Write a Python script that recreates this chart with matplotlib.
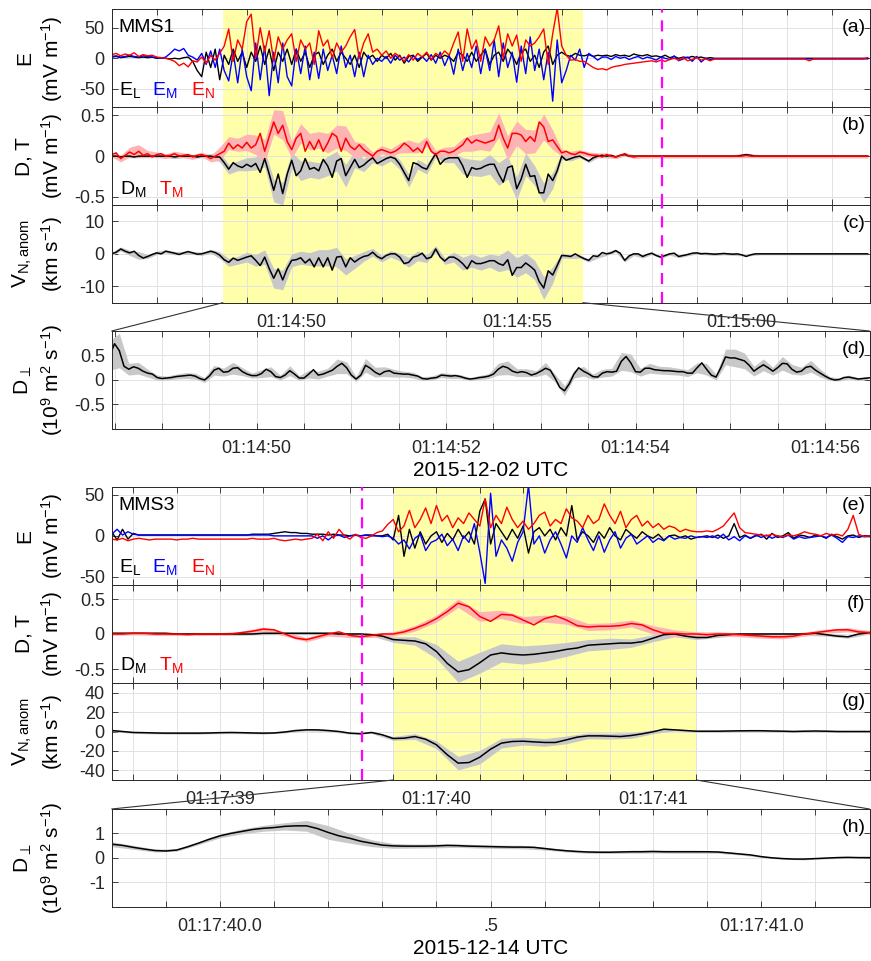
import numpy as np
import matplotlib
matplotlib.use('Agg')
import matplotlib.pyplot as plt
from matplotlib.patches import ConnectionPatch

plt.rcParams['font.family'] = ['Liberation Sans', 'DejaVu Sans']
plt.rcParams['mathtext.default'] = 'regular'
plt.rcParams['axes.unicode_minus'] = False

# ---------------- MMS1 (2015-12-02), seconds after 01:14:00, 0.1 s samples from 46.0 s
EL_top = [
 2, 3, 1, 2, 3, 2, 1, 2, 1, 2,
 0, 1, 0, -1, 0, -1, 1, 2, -5, -20,
 -30, 10, -15, 15, -35, 5, -10, 15, -5, 10,
 -15, 10, -5, 20, -10, 15, -20, 10, -5, 15,
 -10, 15, -5, 10, -15, 5, 10, -10, 5, 15,
 -5, 10, 0, -10, 5, -15, 10, 0, 5, -5,
 5, 0, 8, -3, 5, -8, 3, 5, -5, 2,
 8, -3, 5, 0, 5, 2, -5, 10, 5, -5,
 10, -5, 5, 15, -10, 5, 10, -5, 15, 5,
 -10, 10, 15, -5, 5, -15, 10, 20, -10, 5,
 10, 5, 3, 8, 5, 4, 6, 3, 5, 4,
 5, 3, 6, 4, 5, 3, 7, 5, 4, 6,
 3, 4, 2, 5, 1, 3, 0, 2, 1, 3,
 1, 2, 0, 1, 0, 0, 0, 0, 0, 0,
 0, 0, 0, 0, 0, 0, 0, 0, 0, 0,
 0, 0, 0, 0, 0, 0, 0, 0, 0, 0,
 0, 0, 0, 0, 0, 0, 0, 0, 0]
EM_top = [
 3, 4, 2, 3, 5, 3, 2, 4, 3, 2,
 1, 0, 2, 8, 15, 12, 16, 5, 2, -3,
 8, -10, 12, -15, 15, -20, -37, 10, -40, 15,
 -30, -53, 25, -35, 20, -61, 10, -40, 25, -30,
 -45, 15, -25, 20, -35, 10, -33, 15, -20, 5,
 -25, 20, -15, 5, -30, 10, -30, 5, -10, 0,
 -5, 3, -8, 5, -3, 2, -6, 4, -2, 3,
 -5, 6, -8, 10, -12, 5, -26, 15, -20, 8,
 -15, 20, -25, 15, -20, 30, -30, 25, -15, 10,
 -39, 20, -25, 35, -20, 15, -35, 10, -70, 30,
 -40, -20, 5, -3, 15, -15, 8, 3, -3, 2,
 2, -2, 3, 0, 2, -2, 1, 3, -1, 2,
 0, -3, 2, 0, -2, 4, -4, -1, 2, -5,
 3, -6, 0, -2, -1, -1, -1, -1, -1, -1,
 -1, -1, -1, -1, -1, -1, -1, -1, -1, -1,
 -1, -1, -1, -1, -1, -1, -1, -1, -1, -1,
 -1, -1, -1, -1, -1, -1, -1, -1, -1]
EN_top = [
 6, 8, 4, 7, 5, 9, 3, 6, 4, 5,
 2, 1, 0, -2, -5, -12, -8, -14, -4, -6,
 2, -8, 5, -3, 8, 20, 48, -5, 30, 15,
 60, 72, 0, 50, 10, 45, -5, 35, 15, 30,
 40, -5, 30, 15, 25, -10, 45, 20, 30, 0,
 25, 10, 20, 35, 47, 0, 25, 40, 10, 15,
 5, 12, 0, 8, 3, -5, 6, -3, 8, 2,
 10, -2, 8, 3, 12, 5, 25, 43, -5, 48,
 15, 30, -5, 35, 20, 30, 53, 0, 40, 20,
 38, -5, 30, 20, 25, 35, 48, -10, 40, 82,
 20, 5, -3, -2, -5, -5, -10, -15, -18, -17,
 -19, -15, -13, -12, -10, -9, -8, -7, -6, -5,
 -4, -6, -3, -5, -2, 0, -3, 1, -4, -2,
 1, -3, -1, -4, -1, -1, -1, -1, -1, -1,
 -1, -1, -1, -1, -1, -1, -1, -1, -1, -1,
 -1, -1, -1, -1, -1, -4, -1, -1, -1, -1,
 -1, -1, -1, -1, -1, -1, -1, -1, 1]
# D_M, T_M in 0.01 mV/m
DM_top = [
 0, 0, -1, 0, 0, -1, 0, 0, 0, 0,
 0, 0, 0, 0, -1, 0, 0, 0, 0, -1,
 0, 0, 0, -1, -1, -8, -16, -8, -12, -14,
 -10, -13, -9, -20, -3, -22, -42, -22, -46, -22,
 -5, -24, -18, -3, -16, -14, -18, -4, -12, -26,
 -6, -3, -24, -14, -4, -14, -11, -6, -2, -9,
 -6, -3, -1, -3, -10, -20, -30, -8, -10, -14,
 -16, -6, 3, -10, -4, -2, -2, -2, -12, -26,
 -14, -16, -15, -12, -10, -10, -22, -32, -14, -12,
 -40, -28, -10, -25, -24, -45, -45, -22, -30, -18,
 0, -5, -3, -1, 0, -3, -6, -2, 0, 1,
 0, 1, -1, 1, 2, 0, 0, 0, 0, 0,
 0, 0, 0, 0, 0, 0, 0, 0, 0, 0,
 0, 0, 0, 0, 0, 0, 0, 0, 0, 0,
 1, 2, 1, 0, 0, 0, 0, 0, 0, 0,
 0, 0, 0, 0, 0, 0, 0, 0, 0, 0,
 0, 0, 0, 0, 0, 0, 0, 0, 0]
TM_top = [
 2, 4, -3, 1, 5, 2, 6, 1, 3, -1,
 2, 3, 0, 1, 3, 0, 1, 2, -1, 1,
 2, 0, -3, 0, 3, 6, 16, 9, 14, 10,
 17, 10, 14, 28, 6, 24, 42, 28, 38, 18,
 8, 22, 28, 6, 18, 8, 20, 6, 16, 28,
 24, 6, 22, 12, 8, 14, 8, 4, 0, 6,
 8, 6, 4, 6, 10, 16, 12, 6, 10, 4,
 18, 6, 2, 6, 6, 4, 6, 10, 14, 22,
 16, 20, 18, 16, 18, 20, 38, 22, 10, 28,
 28, 26, 18, 24, 18, 42, 36, 18, 20, 12,
 4, 6, 3, 2, 5, 4, 2, 1, 1, -1,
 2, 0, -1, 1, 3, 0, -1, 0, 0, 0,
 0, 0, 0, 0, 0, 0, 0, 0, 0, 0,
 0, 0, 0, 0, 0, 0, 0, 0, 0, 0,
 0, 1, 0, 0, 0, 0, 0, 0, 0, 0,
 0, 0, 0, 0, 0, 0, 0, 0, 0, 0,
 0, 0, 0, 0, 0, 0, 0, 0, 0]
# V_N,anom in 0.1 km/s
VN_top = [
 0, 5, 15, 8, 3, 8, -5, -13, -8, -2,
 3, 0, 8, 5, 2, -2, 3, 7, 3, -1,
 0, 4, 8, 4, -4, -18, -26, -13, -20, -15,
 -10, -6, -20, -36, -10, -45, -75, -46, -80, -45,
 -20, -18, -12, -28, -16, -40, -12, -40, -12, -50,
 -10, -8, -40, -12, -25, -15, -8, -5, 5, -8,
 -15, -5, 0, 0, -10, -30, -26, -10, -6, 2,
 -15, -10, 15, -10, -22, -10, -10, -18, -30, -46,
 -21, -30, -30, -26, -21, -21, -30, -35, -18, -66,
 -42, -42, -28, -38, -50, -85, -105, -52, -65, -36,
 -5, -6, -8, 0, -8, -15, -20, -6, -8, 4,
 0, 3, 10, 2, -20, -6, 0, 0, -8, -2,
 2, -5, -10, -5, 0, 2, -8, -5, -2, 2,
 3, 0, 1, 0, -1, 0, 1, 0, -1, 0,
 -3, -8, -3, 0, 0, 0, 0, 0, 0, 0,
 0, 0, 0, 0, 0, 0, 0, 0, 0, 0,
 0, 0, 0, 0, 0, 0, 0, 0, 0]
# uncertainty half-widths, every 0.2 s from 46.0 s
TMw_top = [3, 4, 6, 8, 4, 3, 3, 3, 3, 3,
           3, 4, 8, 8, 8, 10, 12, 14, 15, 18,
           10, 12, 10, 10, 12, 14, 15, 10, 8, 5,
           5, 5, 6, 8, 6, 6, 5, 5, 6, 8,
           10, 10, 12, 15, 15, 15, 15, 14, 16, 12,
           4, 3, 3, 3, 3, 2, 2, 2, 2, 2,
           2, 2, 2, 2, 2, 2, 2, 2, 2, 2,
           2, 2, 2, 2, 2, 2, 2, 2, 2, 2,
           2, 2, 2, 2, 2]
DMw_top = [2, 2, 2, 2, 2, 2, 2, 2, 2, 2,
           2, 3, 6, 6, 6, 8, 8, 10, 14, 14,
           10, 12, 10, 10, 12, 12, 14, 10, 8, 6,
           6, 5, 6, 8, 6, 6, 4, 4, 6, 10,
           10, 10, 12, 14, 14, 14, 14, 12, 12, 10,
           4, 3, 2, 2, 2, 2, 2, 2, 2, 2,
           2, 2, 2, 2, 2, 2, 2, 2, 2, 2,
           2, 2, 2, 2, 2, 2, 2, 2, 2, 2,
           2, 2, 2, 2, 2]
VNw_top = [5, 6, 8, 12, 6, 5, 5, 5, 5, 5,
           5, 6, 10, 12, 12, 15, 18, 22, 30, 30,
           20, 20, 20, 25, 25, 30, 25, 20, 15, 12,
           10, 10, 12, 15, 15, 12, 10, 10, 15, 20,
           20, 20, 20, 25, 30, 30, 30, 30, 35, 25,
           8, 6, 5, 5, 5, 5, 5, 5, 5, 5,
           4, 4, 4, 4, 4, 4, 4, 4, 4, 4,
           3, 3, 3, 3, 3, 3, 3, 3, 3, 3,
           3, 3, 3, 3, 3]

# D_perp (MMS1), 0.05 s samples from 48.45 s, in 0.01 x 1e9 m^2/s
Dp1 = [50, 74, 60, 28, 22, 27, 24, 18, 14, 12,
       5, 3, 4, 5, 7, 8, 9, 10, 8, 3,
       0, 8, 20, 24, 16, 17, 24, 25, 17, 12,
       9, 9, 13, 22, 17, 7, 5, 10, 19, 12,
       4, 4, 12, 21, 10, 12, 16, 20, 28, 34,
       25, 10, 2, 10, 30, 24, 16, 11, 17, 19,
       14, 13, 12, 12, 10, 8, 3, 2, 4, 5,
       10, 9, 8, 9, 7, 4, 2, 3, 5, 6,
       8, 12, 22, 28, 25, 18, 15, 17, 15, 10,
       13, 18, 24, 20, 4, -15, -22, -8, 12, 25,
       18, 13, 7, 6, 14, 17, 16, 18, 38, 48,
       35, 17, 16, 24, 24, 21, 20, 19, 19, 18,
       17, 17, 14, 14, 25, 35, 22, 10, 6, 25,
       47, 45, 45, 42, 39, 30, 18, 25, 31, 25,
       18, 25, 34, 33, 22, 16, 18, 26, 28, 20,
       14, 8, 3, 0, 1, 5, 6, 4, 2, 3,
       4, 5]
Dp1w = [30, 35, 12, 12, 8, 5, 4, 5, 6, 6,
        5, 10, 8, 12, 8, 5, 8, 10, 5, 10,
        5, 8, 8, 8, 15, 12, 5, 14, 10, 10,
        8, 6, 6, 4, 4, 5, 5, 4, 3, 4,
        5, 12, 14, 8, 8, 6, 12, 8, 10, 8,
        10, 5, 8, 8, 18, 18, 8, 10, 8, 8,
        7, 7, 10, 12, 6, 16, 18, 16, 10, 12,
        8, 14, 10, 8, 12, 8, 4, 3, 4, 3,
        3]

# ---------------- MMS3 (2015-12-14), seconds after 01:17:00
# E fields, 0.025 s samples from 38.5 s
EL_bot = [5, -5, 8, -4, 3, 1, 1, 1, 1, 1,
          1, 1, 1, 1, 1, 1, 1, 1, 1, 1,
          1, 1, 1, 1, 1, 1, 2, 2, 2, 2,
          3, 4, 5, 4, 4, 3, 3, 2, 2, 2,
          1, 2, 1, 1, 0, 1, 0, 1, 1, 0,
          0, 2, -5, 25, -25, 8, -15, 5, -10, 0,
          5, -8, 3, -5, 8, -3, 5, -10, 30, 45,
          -10, 15, 5, -5, 8, -3, 12, -21, 5, 10,
          0, 8, -5, 10, 0, 37, -5, 5, 0, -8,
          5, -3, 10, 0, -5, 8, 2, -3, 5, 0,
          -3, 2, -5, 0, 1, -2, 0, -4, -2, -1,
          0, -2, 1, -3, 0, 15, -2, 1, -3, 0,
          2, -4, 3, -2, 0, 4, -3, 1, 0, -2,
          1, 0, -3, 2, -1, -4, 0, 1, -2, 0,
          0]
EM_bot = [2, 8, 1, 5, 2, 1, 1, 1, 1, 1,
          1, 1, 1, 1, 1, 1, 1, 1, 1, 1,
          1, 1, 1, 1, 1, 1, 1, 1, 1, 1,
          0, 0, 0, 0, 0, 0, 0, 0, -3, 0,
          -5, 0, 1, -2, 0, 1, 0, 1, 0, 0,
          -1, 0, -3, -10, -5, -16, -3, 2, -18, -8,
          -5, 2, -12, -4, -18, 0, -8, 15, -20, -58,
          52, -25, -5, -15, -31, -8, 5, 62, -10, 0,
          -21, -5, 5, -10, -27, 0, -8, 10, -5, -18,
          0, -20, -5, 5, -15, -3, 2, -10, -5, 0,
          -8, -3, -6, 0, -4, -2, -3, 0, -2, -1,
          -2, 0, -3, 2, -5, -1, -6, 0, -3, 1,
          -2, 1, -3, 0, -2, 1, -4, -1, -3, -2,
          -1, 0, -2, 1, -3, -8, -1, -2, 0, -1,
          -1]
EN_bot = [-4, -5, -3, -6, -4, -3, -4, -5, -4, -4,
          -4, -4, -5, -4, -4, -3, -4, -4, -4, -4,
          -4, -4, -4, -4, -4, -4, -3, -4, -4, -4,
          -3, -5, -6, -5, -4, -5, -4, -3, 2, -6,
          5, -3, 8, 0, -4, 2, -2, -3, 0, 4,
          6, 14, 20, 5, 12, 31, 10, 20, 34, 15,
          37, 18, 25, 10, 22, 15, 28, 20, 12, 45,
          10, 25, 15, 35, 20, 10, 18, 8, 15, 25,
          29, 12, 20, 15, 33, 22, 18, 10, 25, 15,
          20, 39, 25, 15, 30, 10, 20, 25, 12, 18,
          10, 15, 8, 12, 10, 5, 8, 6, 5, 5,
          6, 5, 8, 12, 20, 28, 10, 4, 3, 2,
          1, 0, 2, 0, -1, 1, 0, 2, 5, 3,
          2, 0, 3, 1, 2, 0, 8, 25, 2, -1,
          0]
# 0.05 s samples from 38.5 s
DM_bot = [1, 1, 1, 1, 1, 1, 0, 0, 0, 0,
          0, 0, 0, 0, 1, 1, 1, 1, 1, 1,
          1, 0, 0, 0, -1, -3, -8, -9, -10, -14,
          -25, -42, -54, -51, -41, -30, -27, -29, -30, -29,
          -27, -25, -22, -20, -16, -15, -14, -13, -13, -11,
          -6, -1, 0, -3, -5, -5, -2, -1, 0, 0,
          0, 0, 0, 0, 0, 1, -1, -3, -4, 0,
          2]
TM_bot = [0, 0, 1, 1, 0, 0, 0, -1, 0, 0,
          0, 0, 2, 4, 7, 6, 0, -6, -8, -4,
          0, 3, -2, -4, -2, 0, 0, 3, 8, 14,
          22, 32, 44, 39, 25, 18, 28, 27, 20, 13,
          22, 26, 20, 12, 10, 11, 11, 12, 15, 13,
          6, 1, 1, 0, 0, -1, 0, 0, -1, -2,
          -3, -4, -4, -3, 0, 2, 4, 6, 6, 3,
          2]
VN_bot = [1.0, 0.0, -1.0, -1.2, -1.5, -1.7, -1.7, -1.7, -1.7, -1.5,
          -1.2, -1.0, -1.2, -1.5, -1.7, -1.5, -0.5, 1.0, 1.7, 1.7,
          1.0, 0.0, -1.7, -2.4, -1.0, -3.4, -7.2, -6.9, -5.2, -8.0,
          -13.7, -24.0, -32.6, -32.0, -26.5, -18.2, -12.0, -10.3, -10.0, -10.7,
          -11.3, -11.3, -8.6, -5.8, -4.5, -4.5, -4.8, -5.2, -4.1, -2.4,
          -0.3, 2.4, 1.7, 1.0, 0.3, 0.3, 0.3, 0.5, 0.7, 0.8,
          0.8, 0.5, 0.3, 0.0, 0.3, 0.5, 0.3, 0.0, 0.0, 0.0,
          0.0]
# half-widths every 0.1 s from 38.5 s
TMw_bot = [2, 2, 2, 2, 2, 2, 2, 3, 3, 3,
           3, 3, 3, 3, 4, 5, 6, 7, 6, 5,
           5, 6, 5, 5, 5, 6, 5, 3, 3, 3,
           3, 3, 3, 3, 3, 3]
DMw_bot = [2, 2, 2, 2, 2, 2, 2, 2, 2, 2,
           2, 2, 2, 4, 6, 10, 15, 15, 13, 13,
           12, 10, 8, 8, 6, 5, 4, 3, 3, 2,
           2, 2, 2, 2, 2, 2]
VNw_bot = [1, 1, 1, 1, 1, 1, 1, 1, 1, 1,
           1, 1, 1, 2, 3, 4, 7, 7, 5, 4,
           4, 4, 3, 3, 3, 2, 1, 1, 1, 1,
           1, 1, 1, 1, 1, 1]
# D_perp (MMS3), 0.02 s samples from 39.80 s
Dp3 = [56, 51, 43, 36, 30, 28, 32, 45, 60, 76,
       90, 100, 108, 116, 121, 124, 129, 131, 131, 120,
       104, 90, 80, 68, 60, 52, 49, 48, 48, 48,
       49, 51, 50, 48, 47, 46, 45, 44, 44, 43,
       38, 33, 29, 26, 24, 23, 23, 24, 25, 25,
       26, 25, 25, 25, 25, 25, 24, 20, 16, 12,
       5, 0, -3, -5, -5, -3, -1, 1, 2, 1,
       1]
Dp3w = [10, 8, 6, 5, 6, 8, 10, 12, 15, 22,
        28, 20, 14, 10, 8, 8, 7, 7, 7, 7,
        6, 5, 5, 5, 6, 6, 6, 6, 5, 4,
        3, 3, 3, 3, 3, 3]

# ---------------- build arrays
EL_top, EM_top, EN_top = map(np.array, (EL_top, EM_top, EN_top))
DM_top = np.array(DM_top) / 100; TM_top = np.array(TM_top) / 100
VN_top = np.array(VN_top) / 10
TMw_top = np.array(TMw_top) / 100; DMw_top = np.array(DMw_top) / 100
VNw_top = np.array(VNw_top) / 10
Dp1 = np.array(Dp1) / 100; Dp1w = np.array(Dp1w) / 100
EL_bot, EM_bot, EN_bot = map(np.array, (EL_bot, EM_bot, EN_bot))
DM_bot = np.array(DM_bot) / 100; TM_bot = np.array(TM_bot) / 100
VN_bot = np.array(VN_bot)
TMw_bot = np.array(TMw_bot) / 100; DMw_bot = np.array(DMw_bot) / 100
VNw_bot = np.array(VNw_bot, dtype=float)
Dp3 = np.array(Dp3) / 100; Dp3w = np.array(Dp3w) / 100

t_top = 46.0 + 0.1 * np.arange(len(EN_top))
t_d = 48.45 + 0.05 * np.arange(len(Dp1))
t_eb = 38.5 + 0.025 * np.arange(len(EN_bot))
t_b = 38.5 + 0.05 * np.arange(len(DM_bot))
t_h = 39.8 + 0.02 * np.arange(len(Dp3))

for a in (EL_top, EM_top, DM_top, TM_top, VN_top):
    assert len(a) == len(t_top)
for a in (TMw_top, DMw_top, VNw_top):
    assert len(a) == len(t_top[::2])
assert len(Dp1w) == len(t_d[::2])
for a in (EL_bot, EM_bot):
    assert len(a) == len(t_eb)
for a in (TM_bot, VN_bot):
    assert len(a) == len(t_b)
for a in (TMw_bot, DMw_bot, VNw_bot):
    assert len(a) == len(t_b[::2])
assert len(Dp3w) == len(t_h[::2])

# ---------------- figure
W_PX, H_PX = 871, 961
fig = plt.figure(figsize=(W_PX / 100, H_PX / 100), dpi=100)
X0, X1 = 111.7, 869.5

def add_ax(ytop, ybot):
    return fig.add_axes([X0 / W_PX, 1 - ybot / H_PX, (X1 - X0) / W_PX, (ybot - ytop) / H_PX])

ax_a = add_ax(9.3, 107.3)
ax_b = add_ax(107.3, 205.0)
ax_c = add_ax(205.0, 302.7)
ax_d = add_ax(331.0, 429.0)
ax_e = add_ax(486.7, 585.0)
ax_f = add_ax(585.0, 683.0)
ax_g = add_ax(683.0, 780.0)
ax_h = add_ax(809.0, 906.7)

SPC = '#262626'
YEL = '#FFFFAA'
PINK = '#FFB4B4'
GRAY = '#C8C8C8'
MAG = '#FF00FF'
BLUE = '#0000FF'
RED = '#FF0000'
TFS = 13
LFS = 15

def style(ax):
    ax.tick_params(direction='in', top=True, right=True, length=4, width=0.6,
                   colors=SPC, labelsize=TFS)
    ax.tick_params(axis='x', pad=8)
    ax.tick_params(axis='y', pad=5)
    for s in ax.spines.values():
        s.set_color(SPC)
        s.set_linewidth(0.7)
    ax.grid(True, color='#E2E2E2', lw=0.7)
    ax.set_axisbelow(True)
    ax.yaxis.set_label_coords(-0.062, 0.5)

def set_xt(ax, ticks, labeled):
    ticks = np.round(ticks, 3)
    ax.set_xticks(ticks)
    ax.set_xticklabels([labeled.get(round(float(t), 3), '') for t in ticks])

def set_yt(ax, ticks, fmt):
    ax.set_yticks(ticks)
    ax.set_yticklabels([fmt(v) for v in ticks])

fmt_int = lambda v: '%d' % v
fmt_half = lambda v: '0' if v == 0 else ('%g' % v)

# ---- top group
top_xlim = (46.0, 62.84)
zoom1 = (48.47, 56.47)
top_ticks = np.arange(47, 63, 1.0)
top_labels = {50.0: '01:14:50', 55.0: '01:14:55', 60.0: '01:15:00'}
mag1 = 58.23

for ax in (ax_a, ax_b, ax_c):
    style(ax)
    ax.axvspan(*zoom1, color=YEL, zorder=0.2, lw=0)
    ax.axvline(mag1, color=MAG, lw=1.6, ls=(0, (5, 3.5)), zorder=5)
    ax.set_xlim(*top_xlim)
    set_xt(ax, top_ticks, top_labels if ax is ax_c else {})

ax_a.plot(t_top, EL_top, color='k', lw=1.0)
ax_a.plot(t_top, EM_top, color=BLUE, lw=1.0)
ax_a.plot(t_top, EN_top, color=RED, lw=1.0)
ax_a.set_ylim(-80, 80)
set_yt(ax_a, [-50, 0, 50], fmt_int)
ax_a.set_ylabel('E\n(mV m$^{-1}$)', fontsize=LFS, linespacing=1.25)

tb = t_top[::2]
ax_b.fill_between(tb, DM_top[::2] - DMw_top, DM_top[::2] + DMw_top, color=GRAY, lw=0, zorder=1)
ax_b.fill_between(tb, TM_top[::2] - TMw_top, TM_top[::2] + TMw_top, color=PINK, lw=0, zorder=1.1)
ax_b.plot(t_top, DM_top, color='k', lw=1.1, zorder=2)
ax_b.plot(t_top, TM_top, color=RED, lw=1.1, zorder=2.1)
ax_b.set_ylim(-0.6, 0.6)
set_yt(ax_b, [-0.5, 0, 0.5], fmt_half)
ax_b.set_ylabel('D, T\n(mV m$^{-1}$)', fontsize=LFS, linespacing=1.25)

ax_c.fill_between(tb, VN_top[::2] - VNw_top, VN_top[::2] + VNw_top, color=GRAY, lw=0, zorder=1)
ax_c.plot(t_top, VN_top, color='k', lw=1.1, zorder=2)
ax_c.set_ylim(-15, 15)
set_yt(ax_c, [-10, 0, 10], fmt_int)
ax_c.set_ylabel('V$_{N,anom}$\n(km s$^{-1}$)', fontsize=LFS, linespacing=1.25)

# ---- (d)
style(ax_d)
ax_d.fill_between(t_d[::2], Dp1[::2] - Dp1w, Dp1[::2] + Dp1w, color=GRAY, lw=0, zorder=1)
ax_d.plot(t_d, Dp1, color='k', lw=1.1, zorder=2)
ax_d.set_xlim(*zoom1)
ax_d.set_ylim(-1, 1)
set_yt(ax_d, [-0.5, 0, 0.5], fmt_half)
set_xt(ax_d, np.arange(48.5, 56.01, 0.5),
       {50.0: '01:14:50', 52.0: '01:14:52', 54.0: '01:14:54', 56.0: '01:14:56'})
ax_d.set_ylabel('D$_{\\perp}$\n(10$^{9}$ m$^{2}$ s$^{-1}$)', fontsize=LFS, linespacing=1.25)
ax_d.set_xlabel('2015-12-02 UTC', fontsize=LFS, labelpad=3)

# ---- bottom group
bot_xlim = (38.5, 42.0)
zoom3 = (39.8, 41.2)
bot_ticks = np.arange(38.6, 41.81, 0.2)
bot_labels = {39.0: '01:17:39', 40.0: '01:17:40', 41.0: '01:17:41'}
mag3 = 39.655

for ax in (ax_e, ax_f, ax_g):
    style(ax)
    ax.axvspan(*zoom3, color=YEL, zorder=0.2, lw=0)
    ax.axvline(mag3, color=MAG, lw=1.6, ls=(0, (5, 3.5)), zorder=5)
    ax.set_xlim(*bot_xlim)
    set_xt(ax, bot_ticks, bot_labels if ax is ax_g else {})

ax_e.plot(t_eb, EL_bot, color='k', lw=1.0)
ax_e.plot(t_eb, EM_bot, color=BLUE, lw=1.0)
ax_e.plot(t_eb, EN_bot, color=RED, lw=1.0)
ax_e.set_ylim(-60, 60)
set_yt(ax_e, [-50, 0, 50], fmt_int)
ax_e.set_ylabel('E\n(mV m$^{-1}$)', fontsize=LFS, linespacing=1.25)

tbb = t_b[::2]
ax_f.fill_between(tbb, DM_bot[::2] - DMw_bot, DM_bot[::2] + DMw_bot, color=GRAY, lw=0, zorder=1)
ax_f.fill_between(tbb, TM_bot[::2] - TMw_bot, TM_bot[::2] + TMw_bot, color=PINK, lw=0, zorder=1.1)
ax_f.plot(t_b, DM_bot, color='k', lw=1.1, zorder=2)
ax_f.plot(t_b, TM_bot, color=RED, lw=1.1, zorder=2.1)
ax_f.set_ylim(-0.7, 0.7)
set_yt(ax_f, [-0.5, 0, 0.5], fmt_half)
ax_f.set_ylabel('D, T\n(mV m$^{-1}$)', fontsize=LFS, linespacing=1.25)

ax_g.fill_between(tbb, VN_bot[::2] - VNw_bot, VN_bot[::2] + VNw_bot, color=GRAY, lw=0, zorder=1)
ax_g.plot(t_b, VN_bot, color='k', lw=1.1, zorder=2)
ax_g.set_ylim(-50, 50)
set_yt(ax_g, [-40, -20, 0, 20, 40], fmt_int)
ax_g.set_ylabel('V$_{N,anom}$\n(km s$^{-1}$)', fontsize=LFS, linespacing=1.25)

# ---- (h)
style(ax_h)
ax_h.fill_between(t_h[::2], Dp3[::2] - Dp3w, Dp3[::2] + Dp3w, color=GRAY, lw=0, zorder=1)
ax_h.plot(t_h, Dp3, color='k', lw=1.1, zorder=2)
ax_h.set_xlim(*zoom3)
ax_h.set_ylim(-2, 2)
set_yt(ax_h, [-1, 0, 1], fmt_int)
set_xt(ax_h, np.arange(39.9, 41.11, 0.1),
       {40.0: '01:17:40.0', 40.5: '.5', 41.0: '01:17:41.0'})
ax_h.set_ylabel('D$_{\\perp}$\n(10$^{9}$ m$^{2}$ s$^{-1}$)', fontsize=LFS, linespacing=1.25)
ax_h.set_xlabel('2015-12-14 UTC', fontsize=LFS, labelpad=3)

# ---- annotations
def tx(ax, x, y, s, **kw):
    kw.setdefault('fontsize', 14)
    ax.text(x, y, s, transform=ax.transAxes, zorder=10, **kw)

for ax, lab in ((ax_a, '(a)'), (ax_b, '(b)'), (ax_c, '(c)'), (ax_d, '(d)'),
                (ax_e, '(e)'), (ax_f, '(f)'), (ax_g, '(g)'), (ax_h, '(h)')):
    tx(ax, 0.995, 0.90, lab, ha='right', va='top')

tx(ax_a, 0.009, 0.90, 'MMS1', va='top')
tx(ax_e, 0.009, 0.90, 'MMS3', va='top')
for ax, yb in ((ax_a, 0.13), (ax_e, 0.13)):
    tx(ax, 0.009, yb, 'E$_L$', color='k', va='baseline')
    tx(ax, 0.053, yb, 'E$_M$', color=BLUE, va='baseline')
    tx(ax, 0.104, yb, 'E$_N$', color=RED, va='baseline')
for ax, yb in ((ax_b, 0.11), (ax_f, 0.13)):
    tx(ax, 0.011, yb, 'D$_M$', color='k', va='baseline')
    tx(ax, 0.062, yb, 'T$_M$', color=RED, va='baseline')

# ---- zoom connector lines
for (axs, axz, zr, ybot) in ((ax_c, ax_d, zoom1, -15), (ax_g, ax_h, zoom3, -50)):
    for xv, xf in ((zr[0], 0.0), (zr[1], 1.0)):
        cp = ConnectionPatch(xyA=(xv, ybot), coordsA=axs.transData,
                             xyB=(xf, 1.0), coordsB=axz.transAxes,
                             color='#333333', lw=0.8)
        fig.add_artist(cp)

fig.savefig('out.png', dpi=100)
